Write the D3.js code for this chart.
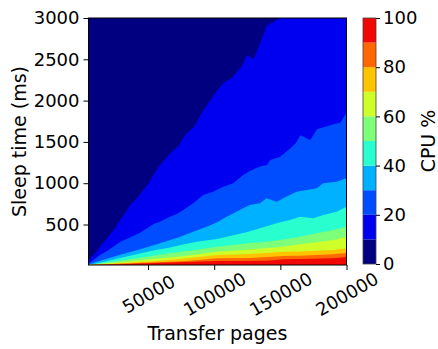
<!DOCTYPE html>
<html>
<head>
<meta charset="utf-8">
<script src="https://cdn.jsdelivr.net/npm/d3@7"></script>
<style>
  body { margin: 0; background: #fff; }
  svg text { font-family: "DejaVu Sans", sans-serif; fill: #000; }
</style>
</head>
<body>
<svg id="chart" width="438" height="349"></svg>
<script>
// Contour levels of CPU % and axis ticks
const levels = [0, 10, 20, 30, 40, 50, 60, 70, 80, 90, 100];
const xTicks = [50000, 100000, 150000, 200000];
const yTicks = [500, 1000, 1500, 2000, 2500, 3000];
const cbTicks = [0, 20, 40, 60, 80, 100];
const pagesDomain = [5000, 200000];
const sleepDomain = [10, 3000];

// Iso-lines of CPU %: [transfer pages, sleep time (ms)] along each level
const cpu10 = [[5000,50],[6200,90],[11300,170],[13800,230],[18800,330],[23900,430],[28900,555],[32700,635],[36500,735],[41500,815],[50400,1000],[57900,1200],[68000,1380],[73100,1450],[75600,1520],[79400,1610],[84400,1670],[90700,1855],[102000,2115],[107100,2215],[113400,2275],[121000,2420],[124700,2550],[129800,2500],[134800,2700],[139900,2910],[150000,3000],[200000,3000]];
const cpu20 = [[5000,28],[8800,71],[13800,131],[18800,175],[28900,288],[44000,400],[54200,506],[58900,534],[66500,595],[71800,627],[76600,676],[84100,757],[91700,857],[99200,897],[106800,958],[114400,999],[121900,1099],[127000,1148],[134600,1202],[139900,1220],[142400,1281],[149900,1321],[157500,1423],[161800,1487],[165100,1580],[172600,1523],[177700,1653],[190300,1713],[195300,1733],[200000,1854]];
const cpu30 = [[5000,16],[11300,50],[28900,135],[41500,190],[54200,250],[61400,285],[74000,350],[84100,413],[94300,474],[101800,524],[109400,595],[116900,655],[121900,696],[127000,736],[134600,757],[139600,817],[147200,776],[152200,817],[162300,897],[169900,918],[177500,938],[182500,999],[192600,1018],[200000,1060]];
const cpu40 = [[5000,10],[16300,45],[28900,95],[41500,140],[54000,185],[66700,222],[74000,250],[86900,290],[102000,325],[114400,370],[124500,405],[134600,454],[147200,515],[157300,555],[164800,595],[174900,575],[182500,615],[192600,655],[200000,716]];
const cpu50 = [[5000,10],[28900,60],[41500,92],[54000,122],[66700,155],[86900,195],[102000,232],[114400,252],[127000,275],[139600,292],[152200,318],[164800,353],[177500,394],[190000,434],[200000,474]];
const cpu60 = [[5000,10],[28900,42],[54000,82],[79400,123],[102000,171],[127000,198],[152200,232],[164800,261],[177500,285],[190000,313],[200000,353]];
const cpu70 = [[5000,10],[28900,30],[54000,55],[79400,91],[102000,131],[127000,143],[152500,171],[164800,173],[190000,192],[200000,212]];
const cpu80 = [[5000,10],[41500,35],[79400,58],[102000,91],[127000,95],[152500,119],[164800,123],[190000,140],[200000,155]];
const cpu90 = [[5000,10],[28900,20],[66700,40],[102000,58],[139600,62],[152500,79],[164800,83],[190000,91],[200000,107]];

const isoLines = [cpu10, cpu20, cpu30, cpu40, cpu50, cpu60, cpu70, cpu80, cpu90];

// jet colormap (matplotlib segment data, 256-entry lookup)
function jet(t) {
  const seg = {
    r: [[0,0],[0.35,0],[0.66,1],[0.89,1],[1,0.5]],
    g: [[0,0],[0.125,0],[0.375,1],[0.64,1],[0.91,0],[1,0]],
    b: [[0,0.5],[0.11,1],[0.34,1],[0.65,0],[1,0]]
  };
  const q = Math.min(255, Math.floor(t * 256)) / 255;
  const f = pts => {
    for (let i = 1; i < pts.length; i++) {
      if (q <= pts[i][0]) {
        const [x0, y0] = pts[i - 1], [x1, y1] = pts[i];
        return y0 + (y1 - y0) * (q - x0) / (x1 - x0);
      }
    }
    return pts[pts.length - 1][1];
  };
  return d3.rgb(255 * f(seg.r), 255 * f(seg.g), 255 * f(seg.b)).formatHex();
}
const bandColors = d3.range(levels.length - 1).map(i => jet(i / (levels.length - 1)));

const svg = d3.select("#chart");
const plotL = 88.5, plotR = 346.5, plotT = 18, plotB = 265;

const x = d3.scaleLinear().domain(pagesDomain).range([plotL, plotR]);
const y = d3.scaleLinear().domain(sleepDomain).range([plotB, plotT]);

svg.append("defs").append("clipPath").attr("id", "plotClip")
  .append("rect").attr("x", plotL).attr("y", plotT)
  .attr("width", plotR - plotL).attr("height", plotB - plotT);

const plot = svg.append("g").attr("clip-path", "url(#plotClip)");

// lowest band fills the whole field
plot.append("rect")
  .attr("x", plotL).attr("y", plotT)
  .attr("width", plotR - plotL).attr("height", plotB - plotT)
  .attr("fill", bandColors[0]);

// each higher band covers everything below its iso-line
const area = d3.area()
  .x(d => x(d[0]))
  .y0(y(sleepDomain[0]))
  .y1(d => y(d[1]));

plot.selectAll("path.band")
  .data(isoLines)
  .join("path")
  .attr("class", "band")
  .attr("d", area)
  .attr("fill", (d, i) => bandColors[i + 1]);

// frame
svg.append("rect")
  .attr("x", plotL).attr("y", plotT)
  .attr("width", plotR - plotL).attr("height", plotB - plotT)
  .attr("fill", "none").attr("stroke", "#000").attr("stroke-width", 1);

// x axis
const xAxis = svg.append("g")
  .attr("transform", `translate(0,${plotB})`)
  .call(d3.axisBottom(x).tickValues(xTicks).tickSize(5).tickFormat(d3.format("d")));
xAxis.select(".domain").remove();
xAxis.selectAll(".tick text")
  .attr("y", null).attr("dy", null)
  .attr("font-size", 18)
  .attr("text-anchor", "middle")
  .attr("dominant-baseline", "central")
  .attr("transform", "translate(0,29) rotate(-30)");

// y axis
const yAxis = svg.append("g")
  .attr("transform", `translate(${plotL},0)`)
  .call(d3.axisLeft(y).tickValues(yTicks).tickSize(5).tickPadding(4).tickFormat(d3.format("d")));
yAxis.select(".domain").remove();
yAxis.selectAll(".tick text").attr("font-size", 18).attr("font-family", "DejaVu Sans, sans-serif");
xAxis.selectAll(".tick text").attr("font-family", "DejaVu Sans, sans-serif");

// axis titles
svg.append("text")
  .attr("x", (plotL + plotR) / 2).attr("y", 340)
  .attr("text-anchor", "middle")
  .attr("font-size", 19)
  .text("Transfer pages");

svg.append("text")
  .attr("transform", `translate(26,${(plotT + plotB) / 2}) rotate(-90)`)
  .attr("text-anchor", "middle")
  .attr("font-size", 19)
  .text("Sleep time (ms)");

// colorbar
const cbL = 363, cbW = 13;
const cb = d3.scaleLinear().domain([levels[0], levels[levels.length - 1]]).range([264, 18]);
const cbg = svg.append("g");
cbg.selectAll("rect.cb")
  .data(d3.range(levels.length - 1))
  .join("rect")
  .attr("class", "cb")
  .attr("x", cbL).attr("width", cbW)
  .attr("y", i => cb(levels[i + 1]))
  .attr("height", i => cb(levels[i]) - cb(levels[i + 1]))
  .attr("fill", i => bandColors[i]);
cbg.append("rect")
  .attr("x", cbL).attr("y", cb(100))
  .attr("width", cbW).attr("height", cb(0) - cb(100))
  .attr("fill", "none").attr("stroke", "#444").attr("stroke-width", 0.8);

const cbAxis = svg.append("g")
  .attr("transform", `translate(${cbL + cbW},0)`)
  .call(d3.axisRight(cb).tickValues(cbTicks).tickSize(4).tickPadding(3));
cbAxis.select(".domain").remove();
cbAxis.selectAll(".tick text").attr("font-size", 18).attr("font-family", "DejaVu Sans, sans-serif");

svg.append("text")
  .attr("transform", `translate(435,141) rotate(-90)`)
  .attr("text-anchor", "middle")
  .attr("font-size", 19)
  .text("CPU %");
</script>
</body>
</html>
